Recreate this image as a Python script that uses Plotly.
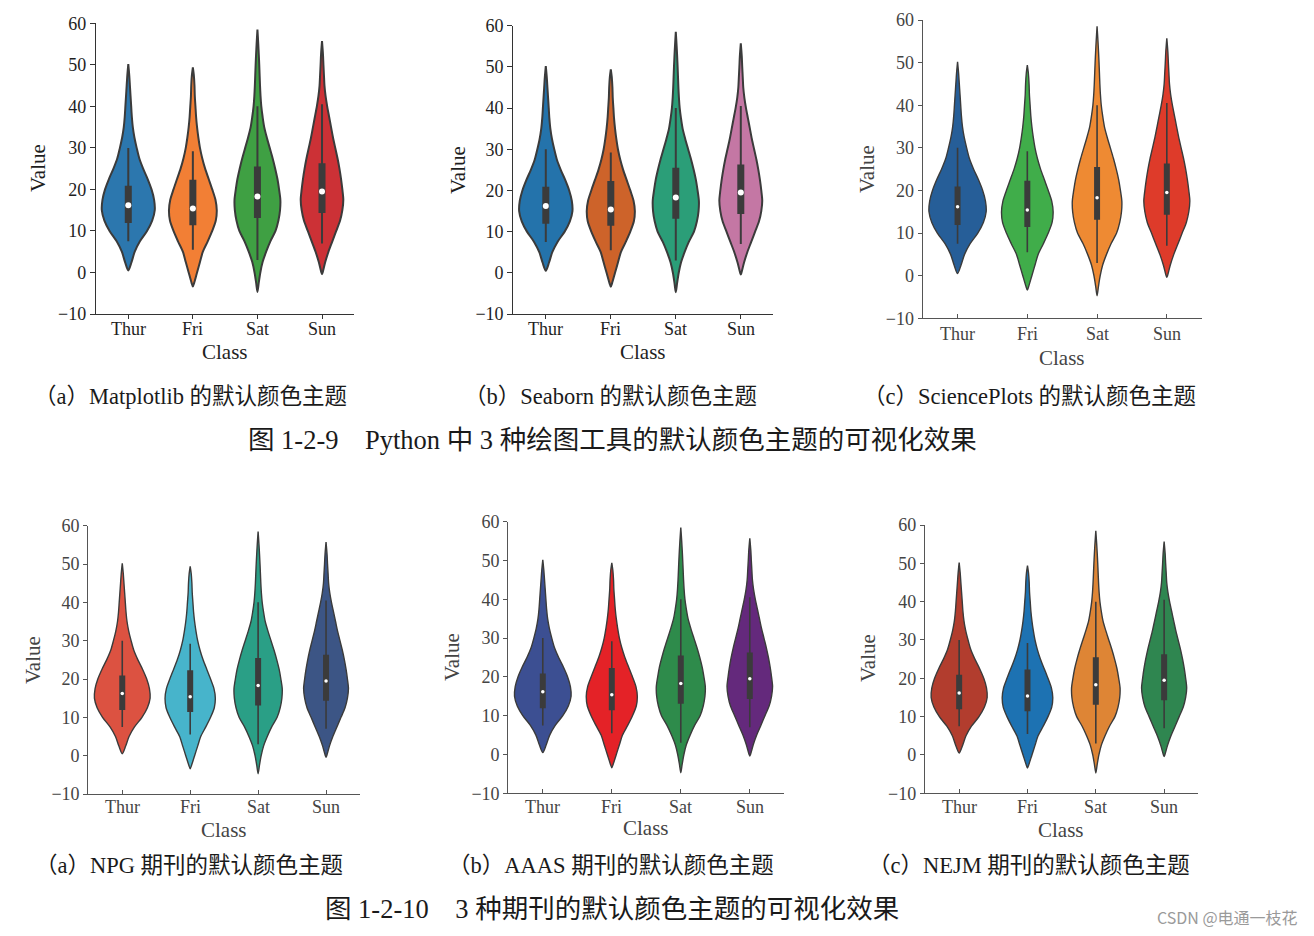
import plotly.graph_objects as go

# ---------------- data ----------------
days = ["Thur", "Fri", "Sat", "Sun"]
y_ticks = [-10, 0, 10, 20, 30, 40, 50, 60]
y_tick_text = ["−10", "0", "10", "20", "30", "40", "50", "60"]

# violin outlines: value levels and half-widths (category units)
thur_y = [0.5, 2.5, 5, 7.5, 10, 12.5, 15, 17.5, 20, 22.5, 25, 27.5, 30, 32.5, 35, 37.5, 40, 42.5, 45, 47.5, 50.2]
thur_w = [0, 0.05, 0.10, 0.18, 0.29, 0.37, 0.41, 0.40, 0.36, 0.30, 0.23, 0.17, 0.13, 0.095, 0.07, 0.055, 0.045, 0.035, 0.025, 0.015, 0]
fri_y = [-3.4, -2.5, 0, 2.5, 5, 7.5, 10, 12.5, 15, 17.5, 20, 22.5, 25, 27.5, 30, 32.5, 35, 37.5, 40, 42.5, 45, 47.5, 49.4]
fri_w = [0, 0.02, 0.065, 0.11, 0.155, 0.23, 0.30, 0.355, 0.37, 0.35, 0.30, 0.245, 0.19, 0.145, 0.11, 0.085, 0.065, 0.05, 0.04, 0.03, 0.025, 0.015, 0]
sat_y = [-4.7, -2.5, 0, 2.5, 5, 7.5, 10, 12.5, 15, 17.5, 20, 22.5, 25, 27.5, 30, 32.5, 35, 37.5, 40, 42.5, 45, 47.5, 50, 52.5, 55, 58.5]
sat_w = [0, 0.02, 0.045, 0.08, 0.135, 0.20, 0.28, 0.325, 0.35, 0.355, 0.335, 0.31, 0.275, 0.235, 0.19, 0.145, 0.105, 0.08, 0.06, 0.048, 0.04, 0.034, 0.028, 0.021, 0.013, 0]
sun_y = [-0.4, 0, 2.5, 5, 7.5, 10, 12.5, 15, 17.5, 20, 22.5, 25, 27.5, 30, 32.5, 35, 37.5, 40, 42.5, 45, 47.5, 50, 52.5, 55.7]
sun_w = [0, 0.01, 0.05, 0.10, 0.16, 0.22, 0.28, 0.315, 0.33, 0.315, 0.295, 0.27, 0.24, 0.205, 0.17, 0.14, 0.11, 0.08, 0.055, 0.038, 0.03, 0.022, 0.015, 0]

# inner box statistics
q1 = [11.9, 11.4, 13.1, 14.3]
median = [16.2, 15.4, 18.3, 19.5]
q3 = [20.9, 22.3, 25.5, 26.3]
whisker_low = [7.5, 5.5, 3.0, 7.0]
whisker_high = [30.0, 29.2, 40.0, 40.5]

violin_y = [thur_y, fri_y, sat_y, sun_y]
violin_w = [thur_w, fri_w, sat_w, sun_w]

# colour themes
matplotlib_colors = ["#2c77ae", "#f27f35", "#3fa043", "#cc3136"]
seaborn_colors = ["#2473ab", "#cd632a", "#2b9e78", "#c477a4"]
scienceplots_colors = ["#265e98", "#40ad4a", "#ee8a33", "#de3b2a"]
npg_colors = ["#dc5241", "#47b4cb", "#2a9f86", "#3c5585"]
aaas_colors = ["#3c4f92", "#e42227", "#2e8b4b", "#64297c"]
nejm_colors = ["#b23d2e", "#1d72b2", "#de8535", "#2f8650"]

captions_top = ["（a）Matplotlib 的默认颜色主题", "（b）Seaborn 的默认颜色主题", "（c）SciencePlots 的默认颜色主题"]
captions_bottom = ["（a）NPG 期刊的默认颜色主题", "（b）AAAS 期刊的默认颜色主题", "（c）NEJM 期刊的默认颜色主题"]
title_top = "图 1-2-9　Python 中 3 种绘图工具的默认颜色主题的可视化效果"
title_bottom = "图 1-2-10　3 种期刊的默认颜色主题的可视化效果"
watermark = "CSDN @电通一枝花"

# ---------------- layout helpers ----------------
W, H = 1314, 936


def fx(x):
    return x / W


def fy(y):
    return 1 - y / H


SERIF = "Liberation Serif, 'Noto Sans CJK SC', serif"
CAP_FONT = "Liberation Serif, 'Noto Sans CJK SC', serif"

# panel geometry: (left, right, top, bottom) in pixels, colours, style, title positions
panels = [
    dict(box=(96, 354.3, 23.3, 314), colors=matplotlib_colors, sns=True,
         vlab=(38, 168), clab=(225, 352), xlab_y=329),
    dict(box=(513.3, 773.3, 25.7, 314), colors=seaborn_colors, sns=True,
         vlab=(458, 170), clab=(643, 352), xlab_y=329),
    dict(box=(922.7, 1201.7, 20, 318.3), colors=scienceplots_colors, sns=False,
         vlab=(867, 169), clab=(1062, 358), xlab_y=334),
    dict(box=(88.3, 360, 525.7, 794), colors=npg_colors, sns=False,
         vlab=(33, 660), clab=(224, 830), xlab_y=807),
    dict(box=(508.3, 784.3, 521.7, 793.3), colors=aaas_colors, sns=False,
         vlab=(452, 657), clab=(646, 828), xlab_y=807),
    dict(box=(925, 1198.3, 525, 793.3), colors=nejm_colors, sns=False,
         vlab=(868, 658), clab=(1061, 830), xlab_y=807),
]

fig = go.Figure()
layout = dict(
    width=W, height=H,
    margin=dict(l=0, r=0, t=0, b=0, pad=0),
    paper_bgcolor="white", plot_bgcolor="white",
    showlegend=False,
)
annotations = []

for p_i, p in enumerate(panels):
    n = p_i + 1
    xa = "x" if n == 1 else f"x{n}"
    ya = "y" if n == 1 else f"y{n}"
    xkey = "xaxis" if n == 1 else f"xaxis{n}"
    ykey = "yaxis" if n == 1 else f"yaxis{n}"
    l, r, t, b = p["box"]
    sns = p["sns"]
    outline_w = 2.0 if sns else 1.4
    whisk_w = 2.0 if sns else 1.6
    box_w = 7 if sns else 6
    med_size = 6 if sns else 3.5
    tick_color = "#1e1e1e" if sns else "#444444"
    line_color = "#333333" if sns else "#555555"
    dark = "#3b3b3b"

    for k in range(4):
        ys = violin_y[k]
        ws = violin_w[k]
        xs = [k + w for w in ws] + [k - w for w in reversed(ws)]
        yy = list(ys) + list(reversed(ys))
        fig.add_trace(go.Scatter(
            x=xs, y=yy, xaxis=xa, yaxis=ya, mode="lines", fill="toself",
            fillcolor=p["colors"][k],
            line=dict(color=dark, width=outline_w, shape="spline", smoothing=0.8),
            hoverinfo="skip"))

    wx, wy, bx, by = [], [], [], []
    for k in range(4):
        wx += [k, k, None]
        wy += [whisker_low[k], whisker_high[k], None]
        bx += [k, k, None]
        by += [q1[k], q3[k], None]
    fig.add_trace(go.Scatter(x=wx, y=wy, xaxis=xa, yaxis=ya, mode="lines",
                             line=dict(color=dark, width=whisk_w), hoverinfo="skip"))
    fig.add_trace(go.Scatter(x=bx, y=by, xaxis=xa, yaxis=ya, mode="lines",
                             line=dict(color=dark, width=box_w), hoverinfo="skip"))
    fig.add_trace(go.Scatter(x=list(range(4)), y=median, xaxis=xa, yaxis=ya, mode="markers",
                             marker=dict(color="white", size=med_size, line=dict(width=0)),
                             hoverinfo="skip"))

    layout[xkey] = dict(
        domain=[fx(l), fx(r)], anchor=ya, range=[-0.5, 3.5], automargin=False,
        tickmode="array", tickvals=[0, 1, 2, 3], ticktext=days,
        showticklabels=False,
        showline=True, linecolor=line_color, linewidth=1.3,
        ticks="outside" if sns else "inside", ticklen=4, tickwidth=1.2, tickcolor=line_color,
        showgrid=False, zeroline=False, fixedrange=True,
    )
    layout[ykey] = dict(
        domain=[fy(b), fy(t)], anchor=xa, range=[-10, 60], automargin=False,
        tickmode="array", tickvals=y_ticks, ticktext=y_tick_text,
        showline=True, linecolor=line_color, linewidth=1.3,
        ticks="outside", ticklen=5 if sns else 4, tickwidth=1.2, tickcolor=line_color,
        showgrid=False, zeroline=False, fixedrange=True,
        tickfont=dict(family=SERIF, size=18, color=tick_color),
    )
    # category tick labels placed on the x axis scale
    for k, d in enumerate(days):
        annotations.append(dict(text=d, x=k, xref=xa, y=fy(p["xlab_y"]), yref="paper",
                                showarrow=False, xanchor="center", yanchor="middle",
                                font=dict(family=SERIF, size=18, color=tick_color)))
    vx, vy = p["vlab"]
    cx, cy = p["clab"]
    annotations.append(dict(text="Value", x=fx(vx), y=fy(vy), xref="paper", yref="paper",
                            showarrow=False, textangle=-90, xanchor="center", yanchor="middle",
                            font=dict(family=SERIF, size=21, color=tick_color)))
    annotations.append(dict(text="Class", x=fx(cx), y=fy(cy), xref="paper", yref="paper",
                            showarrow=False, xanchor="center", yanchor="middle",
                            font=dict(family=SERIF, size=21, color=tick_color)))

cap_x = [190, 610, 1029]
cap_x_b = [189, 611, 1029]
for i in range(3):
    annotations.append(dict(text=captions_top[i], x=fx(cap_x[i]), y=fy(396), xref="paper", yref="paper",
                            showarrow=False, xanchor="center", yanchor="middle",
                            font=dict(family=CAP_FONT, size=22.5, color="#1a1a1a")))
    annotations.append(dict(text=captions_bottom[i], x=fx(cap_x_b[i]), y=fy(865), xref="paper", yref="paper",
                            showarrow=False, xanchor="center", yanchor="middle",
                            font=dict(family=CAP_FONT, size=22.5, color="#1a1a1a")))
annotations.append(dict(text=title_top, x=fx(612), y=fy(440), xref="paper", yref="paper",
                        showarrow=False, xanchor="center", yanchor="middle",
                        font=dict(family=CAP_FONT, size=26.5, color="#1a1a1a")))
annotations.append(dict(text=title_bottom, x=fx(612), y=fy(909), xref="paper", yref="paper",
                        showarrow=False, xanchor="center", yanchor="middle",
                        font=dict(family=CAP_FONT, size=26.5, color="#1a1a1a")))
annotations.append(dict(text=watermark, x=fx(1300), y=fy(917), xref="paper", yref="paper",
                        showarrow=False, xanchor="right", yanchor="middle",
                        font=dict(family="'Noto Sans CJK SC', sans-serif", size=16, color="#9a9a9a")))

layout["annotations"] = annotations
fig.update_layout(**layout)
fig.write_html("out.html")
